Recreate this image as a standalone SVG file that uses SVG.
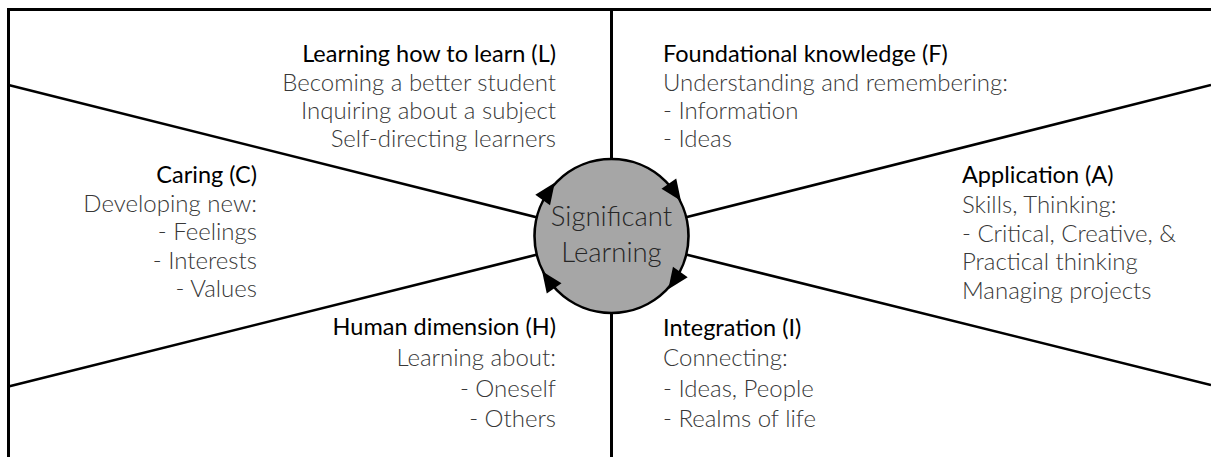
<svg xmlns="http://www.w3.org/2000/svg" width="1211" height="457" viewBox="0 0 1211 457">
<style>
.frame{stroke:#000;stroke-width:3;fill:none}
.div{stroke:#000;stroke-width:2.6;fill:none}
.h{font-family:Lato,"Liberation Sans",sans-serif;font-weight:400;font-size:23.5px;fill:#000}
.b{font-family:Lato,"Liberation Sans",sans-serif;font-weight:300;font-size:24px;fill:#383838}
.c{font-family:Lato,"Liberation Sans",sans-serif;font-weight:300;font-size:27.5px;fill:#262626;text-anchor:middle}
.e{text-anchor:end}
</style>
<defs>
<path id="ah" d="M11,0 L-10,-9 L-10,9 Z" fill="#000"/>
</defs>
<rect width="1211" height="457" fill="#fff"/>
<g id="connectors">
<path class="frame" d="M8.5,457 L8.5,9.5 L1211,9.5"/>
<line class="frame" x1="611.5" y1="9.5" x2="611.5" y2="457"/>
<line class="div" x1="8.5" y1="85" x2="611.5" y2="236"/>
<line class="div" x1="1211" y1="85" x2="611.5" y2="236"/>
<line class="div" x1="8.5" y1="386.5" x2="611.5" y2="236"/>
<line class="div" x1="1211" y1="385" x2="611.5" y2="236"/>
</g>
<g id="center">
<circle cx="611.5" cy="236" r="77" fill="#a6a6a6" stroke="#000" stroke-width="2.6"/>
<use href="#ah" transform="translate(548.4,191.8) rotate(-55)"/>
<use href="#ah" transform="translate(674.6,191.8) rotate(55)"/>
<use href="#ah" transform="translate(674.6,280.2) rotate(125)"/>
<use href="#ah" transform="translate(548.4,280.2) rotate(-125)"/>
<text class="c" x="611.5" y="226">Significant</text>
<text class="c" x="611.5" y="261.5">Learning</text>
</g>
<g id="node-L">
<text class="h e" x="556" y="61.5">Learning how to learn (L)</text>
<text class="b e" x="556" y="90.5">Becoming a better student</text>
<text class="b e" x="556" y="119">Inquiring about a subject</text>
<text class="b e" x="556" y="147">Self-directing learners</text>
</g>
<g id="node-F">
<text class="h" x="663" y="61.5">Foundational knowledge (F)</text>
<text class="b" x="663" y="90.5">Understanding and remembering:</text>
<text class="b" x="663" y="119">- Information</text>
<text class="b" x="663" y="147">- Ideas</text>
</g>
<g id="node-C">
<text class="h e" x="257" y="183">Caring (C)</text>
<text class="b e" x="257" y="212">Developing new:</text>
<text class="b e" x="257" y="240">- Feelings</text>
<text class="b e" x="257" y="268.5">- Interests</text>
<text class="b e" x="257" y="297">- Values</text>
</g>
<g id="node-A">
<text class="h" x="962" y="183">Application (A)</text>
<text class="b" x="962" y="213">Skills, Thinking:</text>
<text class="b" x="962" y="241.5">- Critical, Creative, &amp;</text>
<text class="b" x="962" y="270">Practical thinking</text>
<text class="b" x="962" y="298.5">Managing projects</text>
</g>
<g id="node-H">
<text class="h e" x="556" y="335">Human dimension (H)</text>
<text class="b e" x="556" y="365.5">Learning about:</text>
<text class="b e" x="556" y="396.5">- Oneself</text>
<text class="b e" x="556" y="427">- Others</text>
</g>
<g id="node-I">
<text class="h" x="663" y="335.5">Integration (I)</text>
<text class="b" x="663" y="365.5">Connecting:</text>
<text class="b" x="663" y="396.5">- Ideas, People</text>
<text class="b" x="663" y="427">- Realms of life</text>
</g>
</svg>
